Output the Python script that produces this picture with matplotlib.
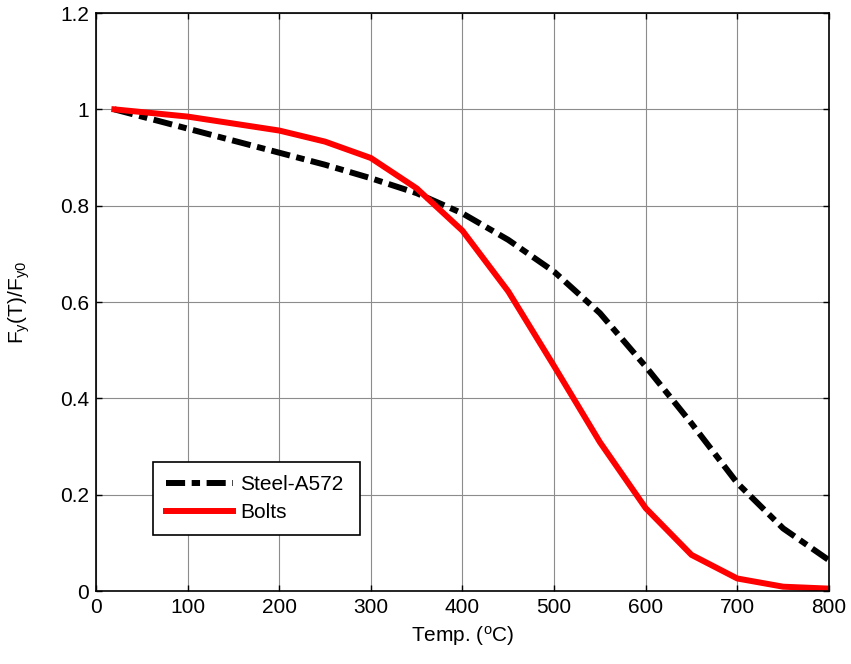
import matplotlib
matplotlib.use("Agg")
import matplotlib.pyplot as plt

plt.rcParams["font.family"] = ["Liberation Sans", "DejaVu Sans"]
plt.rcParams["mathtext.fontset"] = "custom"
plt.rcParams["mathtext.rm"] = "Liberation Sans"
plt.rcParams["mathtext.it"] = "Liberation Sans"

# temperatures (C) and normalised yield strength
temp = [20, 100, 200, 250, 300, 350, 400, 450, 500, 550, 600, 650, 700, 750, 800]
steel = [1.0, 0.96, 0.91, 0.885, 0.857, 0.826, 0.784, 0.729, 0.663, 0.577, 0.466, 0.348, 0.224, 0.130, 0.064]
bolts = [1.0, 0.985, 0.956, 0.933, 0.899, 0.836, 0.748, 0.622, 0.467, 0.309, 0.172, 0.075, 0.026, 0.009, 0.005]

xticks = [0, 100, 200, 300, 400, 500, 600, 700, 800]
yticks = [0, 0.2, 0.4, 0.6, 0.8, 1.0, 1.2]
ytick_labels = ["0", "0.2", "0.4", "0.6", "0.8", "1", "1.2"]

fs = 15

fig = plt.figure(figsize=(8.51, 6.64), dpi=100)
ax = fig.add_axes([0.1128, 0.1099, 0.8613, 0.8705])

ax.plot(temp, steel, color="black", linestyle=(0, (3.2, 1.1, 1.4, 1.1)), linewidth=4.3,
        label="Steel-A572")
ax.plot(temp, bolts, color="red", linestyle="-", linewidth=4.3, label="Bolts")

ax.set_xlim(0, 800)
ax.set_ylim(0, 1.2)
ax.set_xticks(xticks)
ax.set_yticks(yticks)
ax.set_yticklabels(ytick_labels)
ax.grid(True, color="#8c8c8c", linewidth=0.8)
ax.set_axisbelow(True)
ax.tick_params(direction="in", top=True, right=True, length=4, labelsize=fs, width=1, pad=5)
for s in ax.spines.values():
    s.set_linewidth(1.2)

ax.set_xlabel(r"Temp. ($^\mathrm{o}$C)", fontsize=fs, labelpad=5)
ax.set_ylabel(r"F$_\mathrm{y}$(T)/F$_\mathrm{y0}$", fontsize=fs, labelpad=20)

leg = ax.legend(loc="lower left", bbox_to_anchor=(0.078, 0.097, 0.282, 0.122), mode="expand",
                fontsize=fs, fancybox=False, framealpha=1, edgecolor="black",
                handlelength=3.2, handletextpad=0.37, borderaxespad=0, borderpad=0.62,
                labelspacing=0.42)
leg.get_frame().set_linewidth(1.2)

fig.savefig("out.png", dpi=100)
